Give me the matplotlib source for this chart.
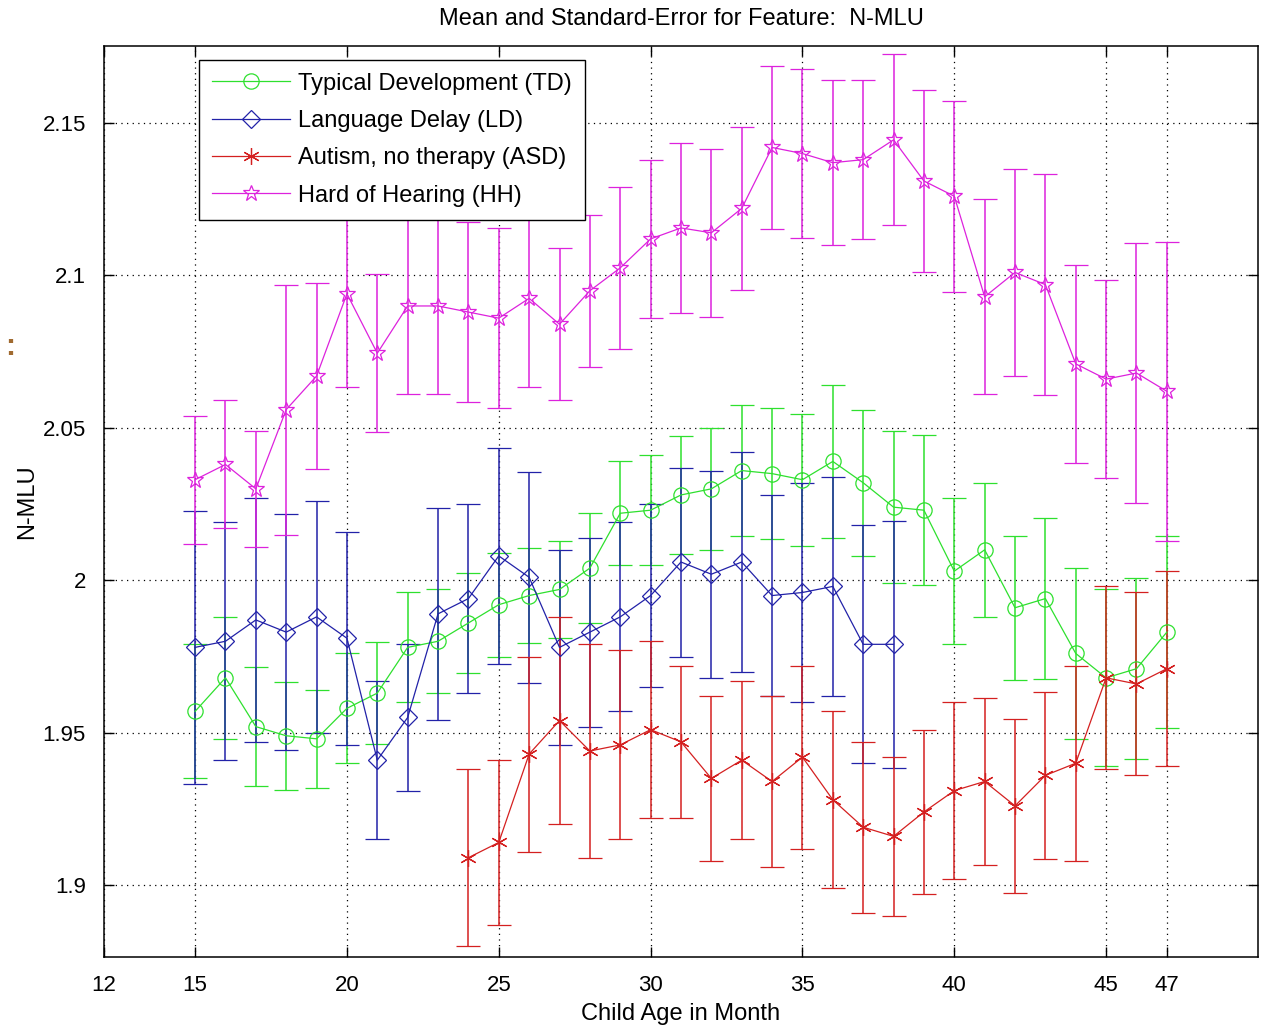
import numpy as np
import matplotlib
matplotlib.use("Agg")
import matplotlib.pyplot as plt
from matplotlib.lines import Line2D

plt.rcParams['font.family'] = ['Liberation Sans', 'DejaVu Sans']

# mean and standard error per age group
ages_td = list(range(15, 48))
td_mean = [1.957, 1.968, 1.952, 1.949, 1.948, 1.958, 1.963, 1.978, 1.980, 1.986, 1.992,
           1.995, 1.997, 2.004, 2.022, 2.023, 2.028, 2.030, 2.036, 2.035, 2.033, 2.039,
           2.032, 2.024, 2.023, 2.003, 2.010, 1.991, 1.994, 1.976, 1.968, 1.971, 1.983]
td_err = [0.022, 0.020, 0.0196, 0.0177, 0.016, 0.018, 0.0167, 0.018, 0.017, 0.0165, 0.017,
          0.0157, 0.016, 0.018, 0.017, 0.018, 0.0195, 0.020, 0.0216, 0.0216, 0.0217, 0.025,
          0.024, 0.025, 0.0247, 0.024, 0.022, 0.0236, 0.0265, 0.028, 0.029, 0.0297, 0.0316]

ages_ld = list(range(15, 39))
ld_mean = [1.978, 1.980, 1.987, 1.983, 1.988, 1.981, 1.941, 1.955, 1.989, 1.994, 2.008, 2.001,
           1.978, 1.983, 1.988, 1.995, 2.006, 2.002, 2.006, 1.995, 1.996, 1.998, 1.979, 1.979]
ld_err = [0.0447, 0.039, 0.040, 0.0387, 0.038, 0.035, 0.026, 0.0242, 0.0347, 0.031, 0.0353, 0.0346,
          0.032, 0.031, 0.031, 0.030, 0.031, 0.034, 0.036, 0.033, 0.036, 0.036, 0.039, 0.0406]

ages_asd = list(range(24, 48))
asd_mean = [1.909, 1.914, 1.943, 1.954, 1.944, 1.946, 1.951, 1.947, 1.935, 1.941, 1.934, 1.942,
            1.928, 1.919, 1.916, 1.924, 1.931, 1.934, 1.926, 1.936, 1.940, 1.968, 1.966, 1.971]
asd_err = [0.029, 0.027, 0.032, 0.034, 0.035, 0.031, 0.029, 0.025, 0.027, 0.026, 0.028, 0.030,
           0.029, 0.028, 0.026, 0.027, 0.029, 0.0275, 0.0286, 0.0275, 0.032, 0.030, 0.030, 0.032]

ages_hh = list(range(15, 48))
hh_mean = [2.033, 2.038, 2.030, 2.056, 2.067, 2.094, 2.0745, 2.090, 2.090, 2.088, 2.086,
           2.0925, 2.084, 2.095, 2.1025, 2.112, 2.1156, 2.114, 2.122, 2.142, 2.140, 2.137,
           2.138, 2.1445, 2.131, 2.126, 2.093, 2.101, 2.097, 2.071, 2.066, 2.068, 2.062]
hh_err = [0.021, 0.021, 0.019, 0.041, 0.0305, 0.0306, 0.026, 0.029, 0.029, 0.0295, 0.0295,
          0.029, 0.025, 0.025, 0.0266, 0.0258, 0.028, 0.0276, 0.0268, 0.0266, 0.0278, 0.027,
          0.026, 0.028, 0.030, 0.0313, 0.032, 0.034, 0.0363, 0.0325, 0.0325, 0.0426, 0.049]

xticks = [12, 15, 20, 25, 30, 35, 40, 45, 47]
yticks = [1.9, 1.95, 2.0, 2.05, 2.1, 2.15]
ytick_labels = ['1.9', '1.95', '2', '2.05', '2.1', '2.15']

fig = plt.figure(figsize=(12.62, 10.28), dpi=100)
ax = fig.add_axes([0.0824, 0.069, 0.9144, 0.8863])

asterisk = (6, 2, 0)
series = [
    (ages_td, td_mean, td_err, '#2ee02e', 'o', 11, 'Typical Development (TD)'),
    (ages_ld, ld_mean, ld_err, '#2222a8', 'D', 9, 'Language Delay (LD)'),
    (ages_asd, asd_mean, asd_err, '#d42020', asterisk, 12, 'Autism, no therapy (ASD)'),
    (ages_hh, hh_mean, hh_err, '#dd22dd', '*', 12, 'Hard of Hearing (HH)'),
]
handles = []
for x, m, e, col, mk, ms, lab in series:
    ax.errorbar(x, m, yerr=e, color=col, ecolor=col, lw=0.9, elinewidth=1.1,
                capsize=8.5, capthick=1.1, marker=mk, ms=ms, mfc='none',
                mec=col, mew=0.9)
    handles.append(Line2D([], [], color=col, lw=0.9, marker=mk, ms=ms, mfc='none',
                          mec=col, mew=0.9, label=lab))

ax.set_xlim(12, 50)
ax.set_ylim(1.8764, 2.1753)
ax.set_xticks(xticks)
ax.set_xticklabels([str(t) for t in xticks])
ax.set_yticks(yticks)
ax.set_yticklabels(ytick_labels)
ax.tick_params(direction='in', length=7, width=1, top=True, right=True,
               labelsize=16, pad=13)
ax.grid(True, color='black', linestyle=(0, (1, 3.5)), linewidth=0.9)
for sp in ax.spines.values():
    sp.set_linewidth(1.1)

ax.set_title('Mean and Standard-Error for Feature:  N-MLU', fontsize=17, pad=15)
ax.set_xlabel('Child Age in Month', fontsize=17, labelpad=5)
ax.set_ylabel('N-MLU', fontsize=17, labelpad=3)

leg = ax.legend(handles=handles, loc='upper left', bbox_to_anchor=(0.0823, 0.985),
                fontsize=17, handlelength=3.3, fancybox=False, framealpha=1,
                edgecolor='black', borderpad=0.55, labelspacing=0.65,
                handletextpad=0.35, borderaxespad=0)
leg.get_frame().set_linewidth(1.0)

fig.text(0.004, 0.655, ':', color='#a06a30', fontsize=22, fontweight='bold')

fig.savefig('out.png', dpi=100)
